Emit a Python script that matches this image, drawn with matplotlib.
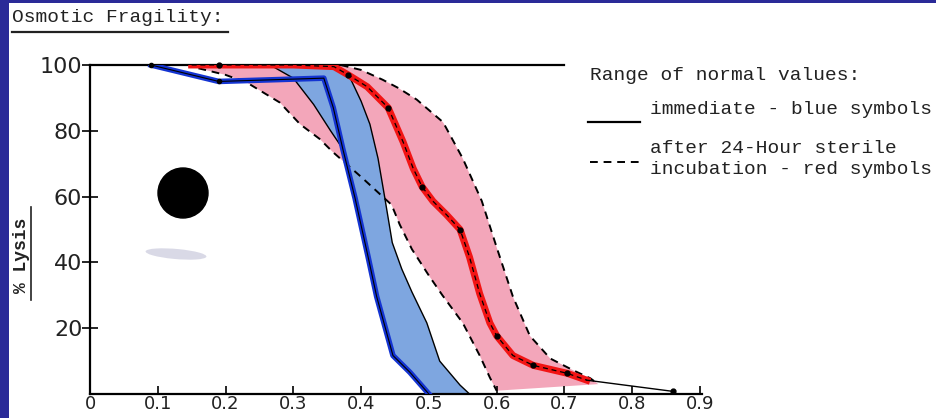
import matplotlib
matplotlib.use('Agg')
import matplotlib.pyplot as plt
import numpy as np
from matplotlib.patches import Ellipse, Rectangle
from matplotlib.lines import Line2D

# ---- data (NaCl concentration %, % lysis) ----
# patient, immediate (blue symbols)
blue_x = [0.09, 0.19, 0.345, 0.359, 0.373, 0.391, 0.41, 0.423, 0.447, 0.472, 0.50]
blue_y = [100, 95, 96, 87, 74.5, 59.6, 42, 29.6, 11.7, 6.6, 0]
# patient, after 24-hour incubation (red symbols)
red_x = [0.15, 0.30, 0.36, 0.381, 0.409, 0.44, 0.462, 0.477, 0.49, 0.506, 0.526,
         0.546, 0.56, 0.575, 0.59, 0.60, 0.624, 0.654, 0.704, 0.733]
red_y = [100, 100, 99.5, 97, 93.4, 87, 76.6, 68.5, 63, 58.6, 54.5,
         50, 41.6, 30.5, 21.6, 17.7, 11.7, 8.7, 6.3, 4.2]
red_tail_x = [0.733, 0.86]
red_tail_y = [4.2, 0.8]
red_pts_x = [0.19, 0.381, 0.44, 0.49, 0.546, 0.60, 0.654, 0.704, 0.86]
red_pts_y = [100, 97, 87, 63, 50, 17.7, 8.7, 6.3, 0.8]
blue_pts_x = [0.09, 0.19]
blue_pts_y = [100, 95]
# normal range, immediate (solid)
imm_lo_x = [0.24, 0.27, 0.30, 0.33, 0.355, 0.373, 0.391, 0.41, 0.423, 0.447, 0.472, 0.50]
imm_lo_y = [100, 99.5, 96, 88, 80, 74.5, 59.6, 42, 29.6, 11.7, 6.6, 0]
imm_hi_x = [0.34, 0.37, 0.384, 0.40, 0.413, 0.425, 0.435, 0.446, 0.46, 0.475,
            0.497, 0.516, 0.546, 0.56]
imm_hi_y = [100, 99, 96, 89, 82, 71.6, 59.6, 46, 38, 31, 21.6, 10, 2.7, 0]
# normal range, after incubation (dashed)
inc_lo_x = [0.16, 0.20, 0.232, 0.28, 0.31, 0.339, 0.358, 0.40, 0.445, 0.457,
            0.475, 0.50, 0.52, 0.55, 0.575, 0.59, 0.60]
inc_lo_y = [99, 97, 94.6, 88.6, 82, 77.5, 73.6, 66, 57.5, 51.5,
            44, 36, 30, 21.6, 11.7, 5, 1]
inc_hi_x = [0.37, 0.40, 0.432, 0.455, 0.482, 0.521, 0.55, 0.578, 0.60, 0.624,
            0.649, 0.679, 0.713, 0.738, 0.75]
inc_hi_y = [100, 98.5, 95.5, 93, 89.5, 82.6, 71.6, 58.7, 44.6, 29.6,
            17.7, 10.8, 7.2, 4.8, 3]

xticks = [0, 0.1, 0.2, 0.3, 0.4, 0.5, 0.6, 0.7, 0.8, 0.9]
xtick_labels = ['0', '0.1', '0.2', '0.3', '0.4', '0.5', '0.6', '0.7', '0.8', '0.9']
yticks = [20, 40, 60, 80, 100]
ytick_labels = ['20', '40', '60', '80', '100']

W, H = 936, 418
fig = plt.figure(figsize=(W / 100, H / 100), dpi=100)
fig.patch.set_facecolor('white')

ax = fig.add_axes([90 / W, 24 / H, 612 / W, 329 / H])
ax.set_xlim(0, 0.903)
ax.set_ylim(0, 100)

PINK = '#f3a6ba'
LBLUE = '#7ea6e0'

ax.fill(np.concatenate([inc_lo_x, inc_hi_x[::-1]]),
        np.concatenate([inc_lo_y, inc_hi_y[::-1]]),
        color=PINK, lw=0, zorder=1)
ax.fill(np.concatenate([imm_lo_x, imm_hi_x[::-1]]),
        np.concatenate([imm_lo_y, imm_hi_y[::-1]]),
        color=LBLUE, lw=0, zorder=2)

ax.plot(inc_lo_x, inc_lo_y, color='black', lw=1.4, ls=(0, (4, 3)), zorder=3)
ax.plot(inc_hi_x, inc_hi_y, color='black', lw=1.4, ls=(0, (4, 3)), zorder=3)
ax.plot(imm_lo_x, imm_lo_y, color='black', lw=1.0, zorder=3)
ax.plot(imm_hi_x, imm_hi_y, color='black', lw=1.0, zorder=3)

ax.plot(blue_x, blue_y, color='#1434d2', lw=4, solid_joinstyle='round', zorder=4)
ax.plot(blue_x, blue_y, color='black', lw=0.8, zorder=4.5)
ax.plot(red_x, red_y, color='#f21414', lw=5, solid_joinstyle='round', zorder=5)
ax.plot(red_x, red_y, color='black', lw=0.9, ls=(0, (4, 3)), zorder=5.5)
ax.plot(red_tail_x, red_tail_y, color='black', lw=1.0, zorder=5.5, clip_on=False)
ax.plot(red_pts_x, red_pts_y, 'o', color='black', ms=3.5, zorder=6, clip_on=False)
ax.plot(blue_pts_x, blue_pts_y, 'o', color='black', ms=3, zorder=6, clip_on=False)

# top 100% line
ax.plot([0, 0.70], [100, 100], color='black', lw=1.6, zorder=3, clip_on=False)

for s in ['top', 'right']:
    ax.spines[s].set_visible(False)
for s in ['left', 'bottom']:
    ax.spines[s].set_linewidth(1.6)

ax.set_xticks(xticks)
ax.set_xticklabels(xtick_labels)
ax.set_yticks(yticks)
ax.set_yticklabels(ytick_labels)
ax.tick_params(axis='x', direction='in', length=6, width=1.2, pad=1, labelsize=13)
ax.tick_params(axis='y', direction='inout', length=11, width=1.2, pad=0, labelsize=16)
for lab in ax.get_xticklabels() + ax.get_yticklabels():
    lab.set_family('DejaVu Sans')
    lab.set_color('#222222')

mono = 'Liberation Mono'
# title
fig.text(12 / W, 1 - 18 / H, 'Osmotic Fragility:', family=mono, fontsize=14,
         va='center', ha='left', color='#222222')
fig.add_artist(Line2D([12 / W, 228 / W], [1 - 32 / H, 1 - 32 / H], color='#222222', lw=1.6))

# y label
fig.text(22 / W, 1 - 255 / H, '% Lysis', family=mono, fontsize=13, fontweight='bold',
         rotation=90, va='center', ha='center', color='#222222')
fig.add_artist(Line2D([31 / W, 31 / W], [1 - 207 / H, 1 - 300 / H], color='#222222', lw=1.2))

# legend
fs_leg = 14
fig.text(590 / W, 1 - 76 / H, 'Range of normal values:', family=mono, fontsize=fs_leg,
         va='center', ha='left', color='#222222')
fig.text(650 / W, 1 - 110 / H, 'immediate - blue symbols', family=mono, fontsize=fs_leg,
         va='center', ha='left', color='#222222')
fig.text(650 / W, 1 - 148 / H, 'after 24-Hour sterile', family=mono, fontsize=fs_leg,
         va='center', ha='left', color='#222222')
fig.text(650 / W, 1 - 170 / H, 'incubation - red symbols', family=mono, fontsize=fs_leg,
         va='center', ha='left', color='#222222')
fig.add_artist(Line2D([588 / W, 640 / W], [1 - 122 / H, 1 - 122 / H], color='black', lw=1.6))
fig.add_artist(Line2D([590 / W, 640 / W], [1 - 162 / H, 1 - 162 / H], color='black', lw=1.4,
                      ls=(0, (4, 3))))

# big black dot and smudge
fig.add_artist(Ellipse((183 / W, 1 - 193 / H), 50 / W, 50 / H, color='black', zorder=10))
fig.add_artist(Ellipse((176 / W, 1 - 254 / H), 62 / W, 10 / H, angle=-12,
                       color='#c9c9dc', alpha=0.7, lw=0, zorder=10))

# navy border
fig.add_artist(Rectangle((0, 0), 9 / W, 1, color='#2a2a98', lw=0, zorder=20))
fig.add_artist(Rectangle((0, 1 - 3 / H), 1, 3 / H, color='#2a2a98', lw=0, zorder=20))

fig.savefig('out.png', dpi=100)
